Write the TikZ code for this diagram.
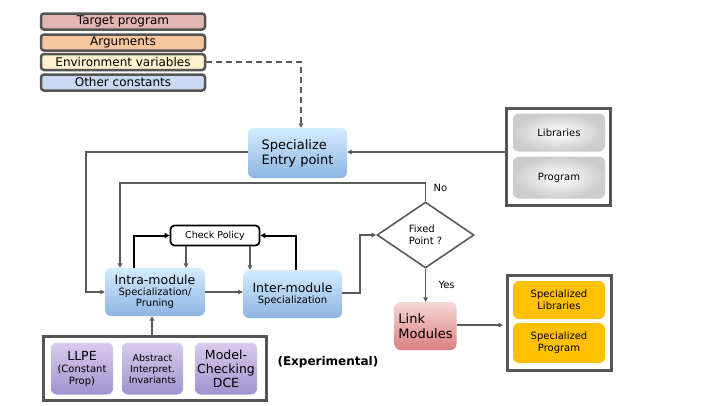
\documentclass[tikz,border=0pt]{standalone}
\usepackage{fontspec}
\setmainfont{DejaVu Sans}
\usetikzlibrary{arrows.meta,shapes.geometric}
\definecolor{ln}{HTML}{5A5A5A}
\definecolor{bord}{HTML}{555555}
\tikzset{
  legend/.style={draw=bord,line width=2.5pt,rounded corners=3pt,minimum width=164pt,minimum height=16pt,inner sep=0pt,font=\fontsize{12}{13}\selectfont},
  bluebox/.style={rounded corners=6pt,top color=blue!8!white!90!cyan,bottom color={rgb,255:red,141;green,180;blue,226},draw=none,align=left,inner sep=0pt},
  conn/.style={draw=ln,line width=1.6pt,-{Triangle[length=4.5pt,width=4.5pt]}},
  plain/.style={draw=ln,line width=1.6pt},
  thickk/.style={draw=black,line width=2pt,-{Triangle[length=5pt,width=5pt]}},
  outer/.style={draw=bord,line width=3pt,fill=white},
  graybox/.style={rounded corners=6pt,inner color=white,outer color=black!20,align=center,font=\fontsize{10}{12}\selectfont},
  yelbox/.style={rounded corners=6pt,fill={rgb,255:red,255;green,192;blue,0},align=center,font=\fontsize{10}{12}\selectfont},
  purbox/.style={rounded corners=6pt,top color={rgb,255:red,216;green,204;blue,238},bottom color={rgb,255:red,160;green,146;blue,206},align=center,inner sep=0pt},
}
\begin{document}
\begin{tikzpicture}[x=1pt,y=-1pt]
\useasboundingbox (0,0) rectangle (720,405);
% legend
\node[legend,fill={rgb,255:red,226;green,180;blue,178}] (tp) at (123,21.5) {Target program};
\node[legend,fill={rgb,255:red,246;green,198;blue,158}] (arg) at (123,42.5) {Arguments};
\node[legend,fill={rgb,255:red,255;green,240;blue,206}] (env) at (123,62) {Environment variables};
\node[legend,fill={rgb,255:red,201;green,217;blue,242}] (oc) at (123,82.5) {Other constants};
% specialize entry point
\node[bluebox,minimum width=99pt,minimum height=50pt,font=\fontsize{13}{15}\selectfont] (sep) at (297.5,153) {Specialize\\Entry point};
\coordinate (d1) at (301,62);
\draw[plain,dashed,dash pattern=on 6pt off 4pt,-{Triangle[length=4.5pt,width=4.5pt]}] (env.east) -- (d1) -- (sep.north -| d1);
% libraries/program
\draw[outer] (506,108) rectangle (610,205);
\coordinate (lpw) at (506,152);
\node[graybox,minimum width=92pt,minimum height=38pt] (lib) at (559,132.5) {Libraries};
\node[graybox,minimum width=92pt,minimum height=42pt] (prog) at (559,177.5) {Program};
\draw[conn] (lpw) -- (sep.east |- lpw);
% intra / inter
\node[bluebox,align=center,minimum width=100pt,minimum height=48pt] (intra) at (155,292) {{\fontsize{12.5}{14}\selectfont Intra-module}\\[-1pt]{\fontsize{10}{12}\selectfont Specialization/}\\[-1pt]{\fontsize{10}{12}\selectfont Pruning}};
\node[bluebox,align=center,minimum width=99pt,minimum height=48pt] (inter) at (292.5,294) {{\fontsize{12.5}{14}\selectfont Inter-module}\\[-1pt]{\fontsize{10}{12}\selectfont Specialization}};
\draw[conn] (intra.east |- 0,292) -- (inter.west |- 0,292);
% check policy
\node[draw=black,line width=1.8pt,rounded corners=4pt,fill=white,minimum width=89pt,minimum height=20pt,inner sep=0pt,font=\fontsize{9.5}{11}\selectfont] (cp) at (215,235.5) {Check Policy};
\draw[thickk] (134,268) |- (cp.west);
\draw[thickk] (296,270) |- (cp.east);
\draw[conn] (cp.south -| 186,0) -- (intra.north -| 186,0);
\draw[conn] (cp.south -| 250,0) -- (inter.north -| 250,0);
% entry -> intra
\draw[conn] (sep.west |- 0,152) -- (86,152) |- (intra.west);
% diamond
\node[diamond,draw=ln,line width=1.6pt,fill=white,minimum width=97pt,minimum height=66pt,inner sep=0pt,aspect=1.47,align=left,font=\fontsize{10}{12}\selectfont] (fp) at (425.5,235) {Fixed\\Point ?};
\draw[conn] (fp.north) -- (425.5,183) -- (120,183) -- (intra.north -| 120,0);
\node[font=\fontsize{10}{12}\selectfont,anchor=west] (no) at (430,188) {No};
\draw[conn] (inter.east |- 0,293) -- (360,293) |- (fp.west);
% link modules
\node[rounded corners=6pt,top color={rgb,255:red,248;green,214;blue,214},bottom color={rgb,255:red,218;green,128;blue,128},minimum width=62pt,minimum height=48pt,align=left,inner sep=0pt,font=\fontsize{13}{15}\selectfont] (lm) at (425.5,326) {Link\\Modules};
\draw[conn] (fp.south) -- (lm.north);
\node[font=\fontsize{10}{12}\selectfont,anchor=west] (yes) at (435,285) {Yes};
% specialized box
\draw[outer] (507,275) rectangle (611,370);
\coordinate (spw) at (503,325);
\node[yelbox,minimum width=92pt,minimum height=38pt] (slib) at (559,300) {Specialized\\Libraries};
\node[yelbox,minimum width=92pt,minimum height=40pt] (sprog) at (559,343) {Specialized\\Program};
\draw[conn] (lm.east |- 0,325) -- (spw);
% experimental
\draw[outer] (43,336) -- (43,400) -- (266,400) -- (266,336) -- cycle;
\coordinate (ebt) at (152,336);
\node[purbox,minimum width=62pt,minimum height=52pt,font=\fontsize{10}{12}\selectfont] (llpe) at (82,368.5) {{\fontsize{12.5}{14}\selectfont LLPE}\\(Constant\\Prop)};
\node[purbox,minimum width=61pt,minimum height=52pt,font=\fontsize{9.5}{11}\selectfont] (ai) at (152.5,368.5) {Abstract\\Interpret.\\Invariants};
\node[purbox,minimum width=62pt,minimum height=52pt,font=\fontsize{12.5}{14}\selectfont] (mc) at (226,368.5) {Model-\\Checking\\DCE};
\draw[conn] (ebt) -- (intra.south -| ebt);
\node[font=\bfseries\fontsize{12}{14}\selectfont,anchor=west] (exp) at (274,362) {(Experimental)};
\end{tikzpicture}
\end{document}
